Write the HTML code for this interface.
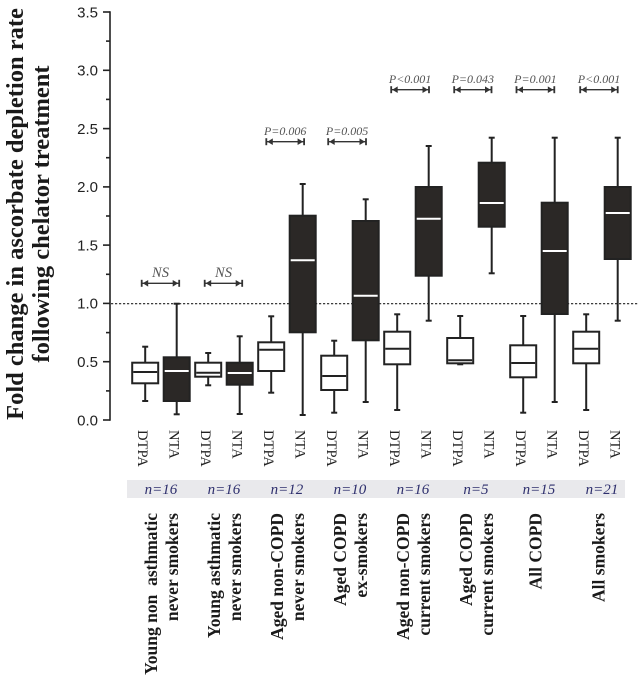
<!DOCTYPE html>
<html><head><meta charset="utf-8"><style>
html,body{margin:0;padding:0;background:#fff;}
svg{display:block;}
</style></head><body>
<svg width="639" height="679" viewBox="0 0 639 679" xmlns="http://www.w3.org/2000/svg">
<rect width="639" height="679" fill="#fff"/>
<!-- Y title -->
<g font-family="'Liberation Serif',serif" font-weight="bold" font-size="24.5" fill="#1a1a1a" text-anchor="middle">
<text transform="translate(23,214) rotate(-90)">Fold change in ascorbate depletion rate</text>
<text transform="translate(49,214) rotate(-90)">following chelator treatment</text>
</g>
<!-- axis -->
<g stroke="#222" stroke-width="1.6" fill="none">
<line x1="110" y1="11.2" x2="110" y2="420.8"/>
<line x1="103" y1="12" x2="110" y2="12"/>
<line x1="103" y1="70.3" x2="110" y2="70.3"/>
<line x1="103" y1="128.6" x2="110" y2="128.6"/>
<line x1="103" y1="186.9" x2="110" y2="186.9"/>
<line x1="103" y1="245.1" x2="110" y2="245.1"/>
<line x1="103" y1="303.4" x2="110" y2="303.4"/>
<line x1="103" y1="361.7" x2="110" y2="361.7"/>
<line x1="103" y1="420" x2="110" y2="420"/>
<line x1="106" y1="41.1" x2="110" y2="41.1"/>
<line x1="106" y1="99.4" x2="110" y2="99.4"/>
<line x1="106" y1="157.7" x2="110" y2="157.7"/>
<line x1="106" y1="216" x2="110" y2="216"/>
<line x1="106" y1="274.3" x2="110" y2="274.3"/>
<line x1="106" y1="332.6" x2="110" y2="332.6"/>
<line x1="106" y1="390.9" x2="110" y2="390.9"/>
</g>
<g font-family="'Liberation Sans',sans-serif" font-size="15" fill="#222" text-anchor="end">
<text x="98" y="17.3">3.5</text>
<text x="98" y="75.6">3.0</text>
<text x="98" y="133.9">2.5</text>
<text x="98" y="192.2">2.0</text>
<text x="98" y="250.4">1.5</text>
<text x="98" y="308.7">1.0</text>
<text x="98" y="367">0.5</text>
<text x="98" y="425.3">0.0</text>
</g>
<!-- dotted reference line -->
<line x1="111" y1="303.7" x2="639" y2="303.7" stroke="#222" stroke-width="1.2" stroke-dasharray="2.2,1.8"/>
<!-- boxes -->
<g stroke="#222" stroke-width="2">
<!-- 0 -->
<line x1="145.2" y1="346.7" x2="145.2" y2="401"/><line x1="142.2" y1="346.7" x2="148.2" y2="346.7"/><line x1="142.2" y1="401" x2="148.2" y2="401"/>
<rect x="132.2" y="362.7" width="26" height="20.6" fill="#fff"/><line x1="133.2" y1="372" x2="157.2" y2="372"/>
<!-- 1 -->
<line x1="176.7" y1="303.7" x2="176.7" y2="414.3"/><line x1="173.7" y1="303.7" x2="179.7" y2="303.7"/><line x1="173.7" y1="414.3" x2="179.7" y2="414.3"/>
<rect x="163.7" y="357.3" width="26" height="43.7" fill="#2b2826"/><line x1="164.7" y1="371" x2="188.7" y2="371" stroke="#fff"/>
<!-- 2 -->
<line x1="208.2" y1="353" x2="208.2" y2="385.3"/><line x1="205.2" y1="353" x2="211.2" y2="353"/><line x1="205.2" y1="385.3" x2="211.2" y2="385.3"/>
<rect x="195.2" y="362.7" width="26" height="14" fill="#fff"/><line x1="196.2" y1="372.7" x2="220.2" y2="372.7"/>
<!-- 3 -->
<line x1="239.7" y1="336.3" x2="239.7" y2="414"/><line x1="236.7" y1="336.3" x2="242.7" y2="336.3"/><line x1="236.7" y1="414" x2="242.7" y2="414"/>
<rect x="226.7" y="362.7" width="26" height="22" fill="#2b2826"/><line x1="227.7" y1="373" x2="251.7" y2="373" stroke="#fff"/>
<!-- 4 -->
<line x1="271.2" y1="316.3" x2="271.2" y2="392.7"/><line x1="268.2" y1="316.3" x2="274.2" y2="316.3"/><line x1="268.2" y1="392.7" x2="274.2" y2="392.7"/>
<rect x="258.2" y="342.3" width="26" height="28.7" fill="#fff"/><line x1="259.2" y1="349.7" x2="283.2" y2="349.7"/>
<!-- 5 -->
<line x1="302.7" y1="184" x2="302.7" y2="415"/><line x1="299.7" y1="184" x2="305.7" y2="184"/><line x1="299.7" y1="415" x2="305.7" y2="415"/>
<rect x="289.7" y="215.7" width="26" height="116.6" fill="#2b2826"/><line x1="290.7" y1="260.3" x2="314.7" y2="260.3" stroke="#fff"/>
<!-- 6 -->
<line x1="334.2" y1="340.7" x2="334.2" y2="412.7"/><line x1="331.2" y1="340.7" x2="337.2" y2="340.7"/><line x1="331.2" y1="412.7" x2="337.2" y2="412.7"/>
<rect x="321.2" y="355.7" width="26" height="34.3" fill="#fff"/><line x1="322.2" y1="376" x2="346.2" y2="376"/>
<!-- 7 -->
<line x1="365.7" y1="199.3" x2="365.7" y2="402"/><line x1="362.7" y1="199.3" x2="368.7" y2="199.3"/><line x1="362.7" y1="402" x2="368.7" y2="402"/>
<rect x="352.7" y="221" width="26" height="119.3" fill="#2b2826"/><line x1="353.7" y1="295.7" x2="377.7" y2="295.7" stroke="#fff"/>
<!-- 8 -->
<line x1="397.2" y1="314.3" x2="397.2" y2="410"/><line x1="394.2" y1="314.3" x2="400.2" y2="314.3"/><line x1="394.2" y1="410" x2="400.2" y2="410"/>
<rect x="384.2" y="331.7" width="26" height="32.6" fill="#fff"/><line x1="385.2" y1="348.7" x2="409.2" y2="348.7"/>
<!-- 9 -->
<line x1="428.7" y1="146" x2="428.7" y2="320.7"/><line x1="425.7" y1="146" x2="431.7" y2="146"/><line x1="425.7" y1="320.7" x2="431.7" y2="320.7"/>
<rect x="415.7" y="187" width="26" height="88.7" fill="#2b2826"/><line x1="416.7" y1="218.7" x2="440.7" y2="218.7" stroke="#fff"/>
<!-- 10 -->
<line x1="460.2" y1="316" x2="460.2" y2="364.3"/><line x1="457.2" y1="316" x2="463.2" y2="316"/><line x1="457.2" y1="364.3" x2="463.2" y2="364.3"/>
<rect x="447.2" y="338" width="26" height="25.3" fill="#fff"/><line x1="448.2" y1="360.3" x2="472.2" y2="360.3"/>
<!-- 11 -->
<line x1="491.7" y1="137.7" x2="491.7" y2="273.3"/><line x1="488.7" y1="137.7" x2="494.7" y2="137.7"/><line x1="488.7" y1="273.3" x2="494.7" y2="273.3"/>
<rect x="478.7" y="162.7" width="26" height="64" fill="#2b2826"/><line x1="479.7" y1="203" x2="503.7" y2="203" stroke="#fff"/>
<!-- 12 -->
<line x1="523.2" y1="316" x2="523.2" y2="412.7"/><line x1="520.2" y1="316" x2="526.2" y2="316"/><line x1="520.2" y1="412.7" x2="526.2" y2="412.7"/>
<rect x="510.2" y="345.3" width="26" height="32" fill="#fff"/><line x1="511.2" y1="363" x2="535.2" y2="363"/>
<!-- 13 -->
<line x1="554.7" y1="137.7" x2="554.7" y2="402"/><line x1="551.7" y1="137.7" x2="557.7" y2="137.7"/><line x1="551.7" y1="402" x2="557.7" y2="402"/>
<rect x="541.7" y="202.7" width="26" height="111.3" fill="#2b2826"/><line x1="542.7" y1="251" x2="566.7" y2="251" stroke="#fff"/>
<!-- 14 -->
<line x1="586.2" y1="314.3" x2="586.2" y2="410"/><line x1="583.2" y1="314.3" x2="589.2" y2="314.3"/><line x1="583.2" y1="410" x2="589.2" y2="410"/>
<rect x="573.2" y="331.7" width="26" height="31.6" fill="#fff"/><line x1="574.2" y1="348.7" x2="598.2" y2="348.7"/>
<!-- 15 -->
<line x1="617.7" y1="137.7" x2="617.7" y2="320.7"/><line x1="614.7" y1="137.7" x2="620.7" y2="137.7"/><line x1="614.7" y1="320.7" x2="620.7" y2="320.7"/>
<rect x="604.7" y="187" width="26" height="72" fill="#2b2826"/><line x1="605.7" y1="213" x2="629.7" y2="213" stroke="#fff"/>
</g>
<!-- significance arrows -->
<g stroke="#333" stroke-width="1.3" fill="#333">
<g transform="translate(141.7,283.3)"><line x1="0" y1="0" x2="37.5" y2="0"/><line x1="0" y1="-3.5" x2="0" y2="3.5" stroke-width="1.8"/><line x1="37.5" y1="-3.5" x2="37.5" y2="3.5" stroke-width="1.8"/><path d="M1,0 L6.5,-3.3 L6.5,3.3Z" stroke="none"/><path d="M36.5,0 L31,-3.3 L31,3.3Z" stroke="none"/></g>
<g transform="translate(204.7,283.3)"><line x1="0" y1="0" x2="37.5" y2="0"/><line x1="0" y1="-3.5" x2="0" y2="3.5" stroke-width="1.8"/><line x1="37.5" y1="-3.5" x2="37.5" y2="3.5" stroke-width="1.8"/><path d="M1,0 L6.5,-3.3 L6.5,3.3Z" stroke="none"/><path d="M36.5,0 L31,-3.3 L31,3.3Z" stroke="none"/></g>
<g transform="translate(266.3,141.7)"><line x1="0" y1="0" x2="37.8" y2="0"/><line x1="0" y1="-3.5" x2="0" y2="3.5" stroke-width="1.8"/><line x1="37.8" y1="-3.5" x2="37.8" y2="3.5" stroke-width="1.8"/><path d="M1,0 L6.5,-3.3 L6.5,3.3Z" stroke="none"/><path d="M36.8,0 L31.3,-3.3 L31.3,3.3Z" stroke="none"/></g>
<g transform="translate(328.2,141.7)"><line x1="0" y1="0" x2="37.8" y2="0"/><line x1="0" y1="-3.5" x2="0" y2="3.5" stroke-width="1.8"/><line x1="37.8" y1="-3.5" x2="37.8" y2="3.5" stroke-width="1.8"/><path d="M1,0 L6.5,-3.3 L6.5,3.3Z" stroke="none"/><path d="M36.8,0 L31.3,-3.3 L31.3,3.3Z" stroke="none"/></g>
<g transform="translate(391.2,89.7)"><line x1="0" y1="0" x2="37.8" y2="0"/><line x1="0" y1="-3.5" x2="0" y2="3.5" stroke-width="1.8"/><line x1="37.8" y1="-3.5" x2="37.8" y2="3.5" stroke-width="1.8"/><path d="M1,0 L6.5,-3.3 L6.5,3.3Z" stroke="none"/><path d="M36.8,0 L31.3,-3.3 L31.3,3.3Z" stroke="none"/></g>
<g transform="translate(454.2,89.7)"><line x1="0" y1="0" x2="37.3" y2="0"/><line x1="0" y1="-3.5" x2="0" y2="3.5" stroke-width="1.8"/><line x1="37.3" y1="-3.5" x2="37.3" y2="3.5" stroke-width="1.8"/><path d="M1,0 L6.5,-3.3 L6.5,3.3Z" stroke="none"/><path d="M36.3,0 L30.8,-3.3 L30.8,3.3Z" stroke="none"/></g>
<g transform="translate(516.5,89.7)"><line x1="0" y1="0" x2="37.8" y2="0"/><line x1="0" y1="-3.5" x2="0" y2="3.5" stroke-width="1.8"/><line x1="37.8" y1="-3.5" x2="37.8" y2="3.5" stroke-width="1.8"/><path d="M1,0 L6.5,-3.3 L6.5,3.3Z" stroke="none"/><path d="M36.8,0 L31.3,-3.3 L31.3,3.3Z" stroke="none"/></g>
<g transform="translate(580.2,89.7)"><line x1="0" y1="0" x2="37.5" y2="0"/><line x1="0" y1="-3.5" x2="0" y2="3.5" stroke-width="1.8"/><line x1="37.5" y1="-3.5" x2="37.5" y2="3.5" stroke-width="1.8"/><path d="M1,0 L6.5,-3.3 L6.5,3.3Z" stroke="none"/><path d="M36.5,0 L31,-3.3 L31,3.3Z" stroke="none"/></g>
</g>
<g font-family="'Liberation Serif',serif" font-style="italic" fill="#555" text-anchor="middle">
<text x="160.5" y="277" font-size="14.5">NS</text>
<text x="223.5" y="277" font-size="14.5">NS</text>
<text x="285.2" y="135" font-size="12">P=0.006</text>
<text x="347.1" y="135" font-size="12">P=0.005</text>
<text x="410.1" y="83" font-size="12">P&lt;0.001</text>
<text x="472.8" y="83" font-size="12">P=0.043</text>
<text x="535.4" y="83" font-size="12">P=0.001</text>
<text x="599" y="83" font-size="12">P&lt;0.001</text>
</g>
<!-- DTPA / NTA labels -->
<g font-family="'Liberation Serif',serif" font-size="14.6" fill="#222">
<text transform="translate(138.2,430) rotate(90)">DTPA</text>
<text transform="translate(169.7,430) rotate(90)">NTA</text>
<text transform="translate(201.2,430) rotate(90)">DTPA</text>
<text transform="translate(232.7,430) rotate(90)">NTA</text>
<text transform="translate(264.2,430) rotate(90)">DTPA</text>
<text transform="translate(295.7,430) rotate(90)">NTA</text>
<text transform="translate(327.2,430) rotate(90)">DTPA</text>
<text transform="translate(358.7,430) rotate(90)">NTA</text>
<text transform="translate(390.2,430) rotate(90)">DTPA</text>
<text transform="translate(421.7,430) rotate(90)">NTA</text>
<text transform="translate(453.2,430) rotate(90)">DTPA</text>
<text transform="translate(484.7,430) rotate(90)">NTA</text>
<text transform="translate(516.2,430) rotate(90)">DTPA</text>
<text transform="translate(547.7,430) rotate(90)">NTA</text>
<text transform="translate(579.2,430) rotate(90)">DTPA</text>
<text transform="translate(610.7,430) rotate(90)">NTA</text>
</g>
<!-- n band -->
<rect x="127" y="480" width="498" height="18" fill="#e9e9ec"/>
<g font-family="'Liberation Serif',serif" font-style="italic" font-size="15" fill="#2e2f6d" text-anchor="middle">
<text x="160.95" y="494">n=16</text>
<text x="223.95" y="494">n=16</text>
<text x="286.95" y="494">n=12</text>
<text x="349.95" y="494">n=10</text>
<text x="412.95" y="494">n=16</text>
<text x="475.95" y="494">n=5</text>
<text x="538.95" y="494">n=15</text>
<text x="601.95" y="494">n=21</text>
</g>
<!-- group labels -->
<g font-family="'Liberation Serif',serif" font-weight="bold" font-size="17.5" fill="#1a1a1a" text-anchor="end">
<text transform="translate(157,513) rotate(-90)" xml:space="preserve">Young non  asthmatic</text>
<text transform="translate(178,513) rotate(-90)">never smokers</text>
<text transform="translate(220,513) rotate(-90)">Young asthmatic</text>
<text transform="translate(241,513) rotate(-90)">never smokers</text>
<text transform="translate(283,513) rotate(-90)">Aged non-COPD</text>
<text transform="translate(304,513) rotate(-90)">never smokers</text>
<text transform="translate(346,513) rotate(-90)">Aged COPD</text>
<text transform="translate(367,513) rotate(-90)">ex-smokers</text>
<text transform="translate(409,513) rotate(-90)">Aged non-COPD</text>
<text transform="translate(430,513) rotate(-90)">current smokers</text>
<text transform="translate(472,513) rotate(-90)">Aged COPD</text>
<text transform="translate(493,513) rotate(-90)">current smokers</text>
<text transform="translate(541.5,513) rotate(-90)">All COPD</text>
<text transform="translate(604.5,513) rotate(-90)">All smokers</text>
</g>
</svg>
</body></html>
